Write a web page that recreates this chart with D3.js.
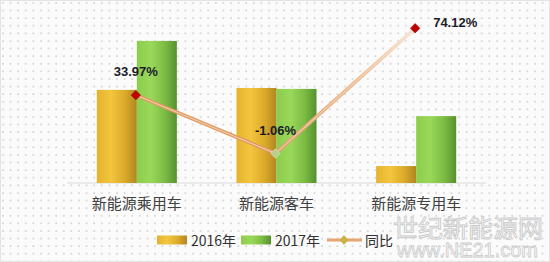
<!DOCTYPE html>
<html lang="zh">
<head>
  <meta charset="UTF-8">
  <title>新能源汽车 2016 vs 2017</title>
  <script src="https://d3js.org/d3.v7.min.js"></script>
  <style>
    body { margin: 0; background: #fff; }
    .cat { font-family: "Noto Sans CJK SC", sans-serif; font-size: 15px; fill: #404040; }
    .lbl { font-family: "Liberation Sans", Arial, sans-serif; font-size: 13px; font-weight: bold; fill: #1c1c2a; }
    .leg { font-size: 14px; fill: #303030; }
  </style>
</head>
<body>
<script>
// 数据
var categories = ["新能源乘用车", "新能源客车", "新能源专用车"];
var seriesNames = ["2016年", "2017年"];
var values2016 = [29.1, 29.7, 5.3];
var values2017 = [44.4, 29.4, 20.9];
var yoy = [33.97, -1.06, 74.12];
var yoyName = "同比";

var W = 550, H = 262;
var svg = d3.select("body").append("svg")
  .attr("width", W).attr("height", H);

var defs = svg.append("defs");

// 背景点阵
var pat = defs.append("pattern")
  .attr("id", "dots").attr("width", 7.6).attr("height", 7.6)
  .attr("patternUnits", "userSpaceOnUse");
pat.append("rect").attr("width", 7.6).attr("height", 7.6).attr("fill", "#fbfbfb");
pat.append("circle").attr("cx", 3).attr("cy", 3).attr("r", 0.75).attr("fill", "#bdbdbd");

svg.append("rect").attr("width", W).attr("height", H).attr("fill", "url(#dots)");

// 渐变
function grad(id, stops) {
  var g = defs.append("linearGradient").attr("id", id)
    .attr("x1", "0%").attr("x2", "100%").attr("y1", "0%").attr("y2", "0%");
  stops.forEach(function(s) {
    g.append("stop").attr("offset", s[0]).attr("stop-color", s[1]);
  });
  return g;
}
grad("g2016", [["0%", "#e6b22e"], ["35%", "#f3c63e"], ["70%", "#dcaa2a"], ["100%", "#b08620"]]);
grad("g2017", [["0%", "#8ccd4c"], ["35%", "#9ad85a"], ["70%", "#7cbc44"], ["100%", "#57902e"]]);
var lineGrad = grad("gLine", [["0%", "#e2a06a"], ["60%", "#ecbc94"], ["100%", "#f8e6d8"]]);
var fills = ["url(#g2016)", "url(#g2017)"];

// 比例尺
var x0 = d3.scaleBand().domain(categories)
  .range([67, 486]).paddingInner(0.427).paddingOuter(0.2135);
var x1 = d3.scaleBand().domain(seriesNames).range([0, x0.bandwidth()]);
var y = d3.scaleLinear().domain([0, 50]).range([183, 23]);
var y2 = d3.scaleLinear().domain([-20, 80]).range([185, 18.5]);

// 基线
svg.append("line")
  .attr("x1", x0.range()[0]).attr("x2", x0.range()[1])
  .attr("y1", y(0)).attr("y2", y(0))
  .attr("stroke", "#d9d9d9").attr("stroke-width", 1);

// 柱子
var rows = categories.map(function(c, i) {
  return { cat: c, vals: [values2016[i], values2017[i]] };
});
var groups = svg.selectAll(".grp").data(rows).enter().append("g")
  .attr("class", "grp")
  .attr("transform", function(d) { return "translate(" + x0(d.cat) + ",0)"; });
groups.selectAll("rect").data(function(d) {
    return d.vals.map(function(v, j) { return { key: seriesNames[j], v: v, j: j }; });
  }).enter().append("rect")
  .attr("x", function(d) { return x1(d.key); })
  .attr("y", function(d) { return y(d.v); })
  .attr("width", x1.bandwidth())
  .attr("height", function(d) { return y(0) - y(d.v); })
  .attr("fill", function(d) { return fills[d.j]; });

// 分类标签
svg.selectAll(".cat").data(categories).enter().append("text")
  .attr("class", "cat")
  .attr("x", function(d) { return x0(d) + x0.bandwidth() / 2; })
  .attr("y", 209)
  .attr("text-anchor", "middle")
  .text(function(d) { return d; });

// 同比折线
var pts = categories.map(function(c, i) {
  return [x0(c) + x0.bandwidth() / 2 - 1, y2(yoy[i])];
});
svg.append("line")
  .attr("x1", pts[0][0]).attr("y1", pts[0][1]).attr("x2", pts[1][0]).attr("y2", pts[1][1])
  .attr("stroke", "#e09a62").attr("stroke-width", 3.6).attr("stroke-linecap", "round");
lineGrad.attr("gradientUnits", "userSpaceOnUse")
  .attr("x1", pts[1][0]).attr("y1", pts[1][1]).attr("x2", pts[2][0]).attr("y2", pts[2][1]);
svg.append("line")
  .attr("x1", pts[1][0]).attr("y1", pts[1][1]).attr("x2", pts[2][0]).attr("y2", pts[2][1])
  .attr("stroke", "url(#gLine)").attr("stroke-width", 3.6).attr("stroke-linecap", "round");
// 高光
svg.append("path")
  .attr("d", d3.line()(pts))
  .attr("fill", "none").attr("stroke", "#fbe3cc").attr("stroke-width", 0.9).attr("opacity", 0.85);

var diamond = d3.symbol().type(d3.symbolSquare).size(44);
var mColors = ["#c00000", "#b7cf8a", "#c00000"];
svg.selectAll(".mk").data(pts).enter().append("path")
  .attr("class", "mk")
  .attr("d", diamond)
  .attr("transform", function(d) { return "translate(" + d[0] + "," + d[1] + ") rotate(45)"; })
  .attr("fill", function(d, i) { return mColors[i]; })
  .attr("stroke", function(d, i) { return i === 1 ? "#d8e6c0" : "#9a0000"; })
  .attr("stroke-width", 0.6);

// 数据标签
var lblPos = [[0, -19, "middle"], [0, -18, "middle"], [18, -1, "start"]];
svg.selectAll(".lbl").data(yoy).enter().append("text")
  .attr("class", "lbl")
  .attr("x", function(d, i) { return pts[i][0] + lblPos[i][0]; })
  .attr("y", function(d, i) { return pts[i][1] + lblPos[i][1]; })
  .attr("text-anchor", function(d, i) { return lblPos[i][2]; })
  .text(function(d) { return d.toFixed(2) + "%"; });

// 水印
var wm = svg.append("g").attr("font-family", "Noto Sans CJK SC, sans-serif");
wm.append("text").attr("x", 393).attr("y", 237).attr("font-size", 24)
  .attr("textLength", 150).attr("lengthAdjust", "spacingAndGlyphs")
  .attr("fill", "#fdfdfd").attr("stroke", "#cacaca").attr("stroke-width", 0.9)
  .text("世纪新能源网");
wm.append("text").attr("x", 397).attr("y", 257).attr("font-size", 21)
  .attr("font-family", "Liberation Sans, sans-serif")
  .attr("textLength", 141).attr("lengthAdjust", "spacingAndGlyphs")
  .attr("fill", "#fdfdfd").attr("stroke", "#cacaca").attr("stroke-width", 0.8)
  .text("www.NE21.com");

// 图例
var leg = svg.append("g").attr("font-family", "Noto Sans CJK SC, sans-serif");
var legItems = [
  { name: seriesNames[0], type: "bar", fill: fills[0], x: 157 },
  { name: seriesNames[1], type: "bar", fill: fills[1], x: 241 },
  { name: yoyName, type: "line", x: 327 }
];
legItems.forEach(function(it) {
  var g = leg.append("g").attr("transform", "translate(" + it.x + ",240)");
  if (it.type === "bar") {
    g.append("rect").attr("x", 0).attr("y", -4.5).attr("width", 30).attr("height", 9)
      .attr("fill", it.fill);
  } else {
    g.append("line").attr("x1", 0).attr("x2", 35).attr("y1", 0).attr("y2", 0)
      .attr("stroke", "#e8a474").attr("stroke-width", 3);
    g.append("path").attr("d", diamond)
      .attr("transform", "translate(17,0) rotate(45)")
      .attr("fill", "#c9b344");
  }
  g.append("text").attr("class", "leg")
    .attr("x", it.type === "bar" ? 34 : 38).attr("y", 5.5)
    .text(it.name);
});

// 边框
svg.append("rect").attr("x", 0.5).attr("y", 0.5).attr("width", W - 1).attr("height", H - 1)
  .attr("fill", "none").attr("stroke", "#e4e4e4");
</script>
</body>
</html>
